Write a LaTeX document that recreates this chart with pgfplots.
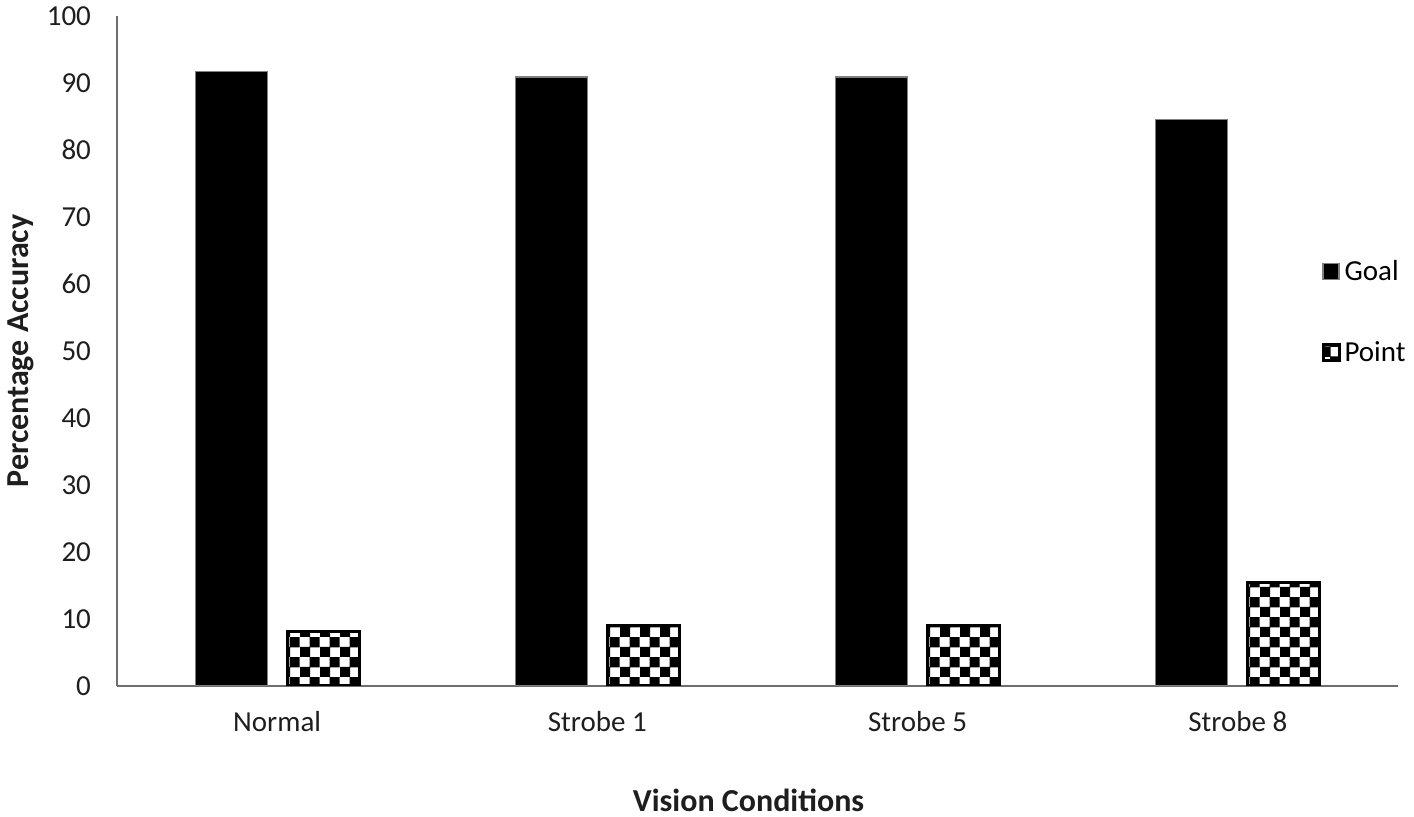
\documentclass[border=0pt]{standalone}
\usepackage{pgfplots}
\pgfplotsset{compat=1.18}
\usetikzlibrary{patterns}
\usepackage{fontspec}
\setmainfont{Carlito}

% checkerboard with 5pt squares
\pgfdeclarepatternformonly{bigchecker}{\pgfpointorigin}{\pgfqpoint{10pt}{10pt}}{\pgfqpoint{10pt}{10pt}}{%
  \pgfpathrectangle{\pgfpointorigin}{\pgfqpoint{5.3pt}{5.3pt}}%
  \pgfpathrectangle{\pgfqpoint{5pt}{5pt}}{\pgfqpoint{5.3pt}{5.3pt}}%
  \pgfusepath{fill}}

\definecolor{axisgray}{RGB}{110,110,110}
\definecolor{txt}{RGB}{30,30,30}

\pgfplotstableread{
x goal point
0 91.7 8.2
1 90.9 9.1
2 90.9 9.1
3 84.5 15.4
}\datatable

\begin{document}
\begin{tikzpicture}
\path[use as bounding box] (0,0) rectangle (707pt,408.5pt);
\begin{axis}[
  at={(58.5pt,65.5pt)}, anchor=south west,
  scale only axis, width=640.5pt, height=335pt,
  font=\fontsize{14.5}{17}\selectfont,
  /pgf/number format/assume math mode=true,
  ybar, bar width=36pt,
  xmin=-0.5, xmax=3.5, ymin=0, ymax=100,
  xtick=data, xticklabels={Normal, Strobe 1, Strobe 5, Strobe 8},
  ytick={0,10,...,100},
  axis x line=bottom, axis y line=left,
  axis line style={draw=axisgray, line width=0.9pt, -},
  major tick length=0pt,
  tick label style={text=txt},
  xticklabel style={yshift=-9pt},
  yticklabel style={xshift=-9.5pt},
  xlabel={\textbf{Vision Conditions}},
  ylabel={\textbf{Percentage Accuracy}},
  label style={font=\fontsize{16}{19}\selectfont, text=txt},
  xlabel style={at={(axis description cs:0.493,-0.17)}, anchor=center},
  ylabel style={at={(axis description cs:-0.075,0.5)}, anchor=center},
  legend style={at={(0.94,0.642)}, anchor=north west, draw=none, fill=none,
    font=\fontsize{14.5}{17}\selectfont, row sep=25pt, inner sep=0pt,
    cells={anchor=west}},
  legend image code/.code={\draw[#1] (0pt,-4pt) rectangle (8pt,4pt);},
]
\addplot[bar shift=-23pt, fill=black, draw=gray, line width=0.6pt] table[x=x, y=goal] {\datatable};
\addlegendentry{Goal}
\addplot[bar shift=23pt, pattern=bigchecker, pattern color=black, draw=black, line width=1.5pt] table[x=x, y=point] {\datatable};
\addlegendentry{Point}
\end{axis}
\end{tikzpicture}
\end{document}
